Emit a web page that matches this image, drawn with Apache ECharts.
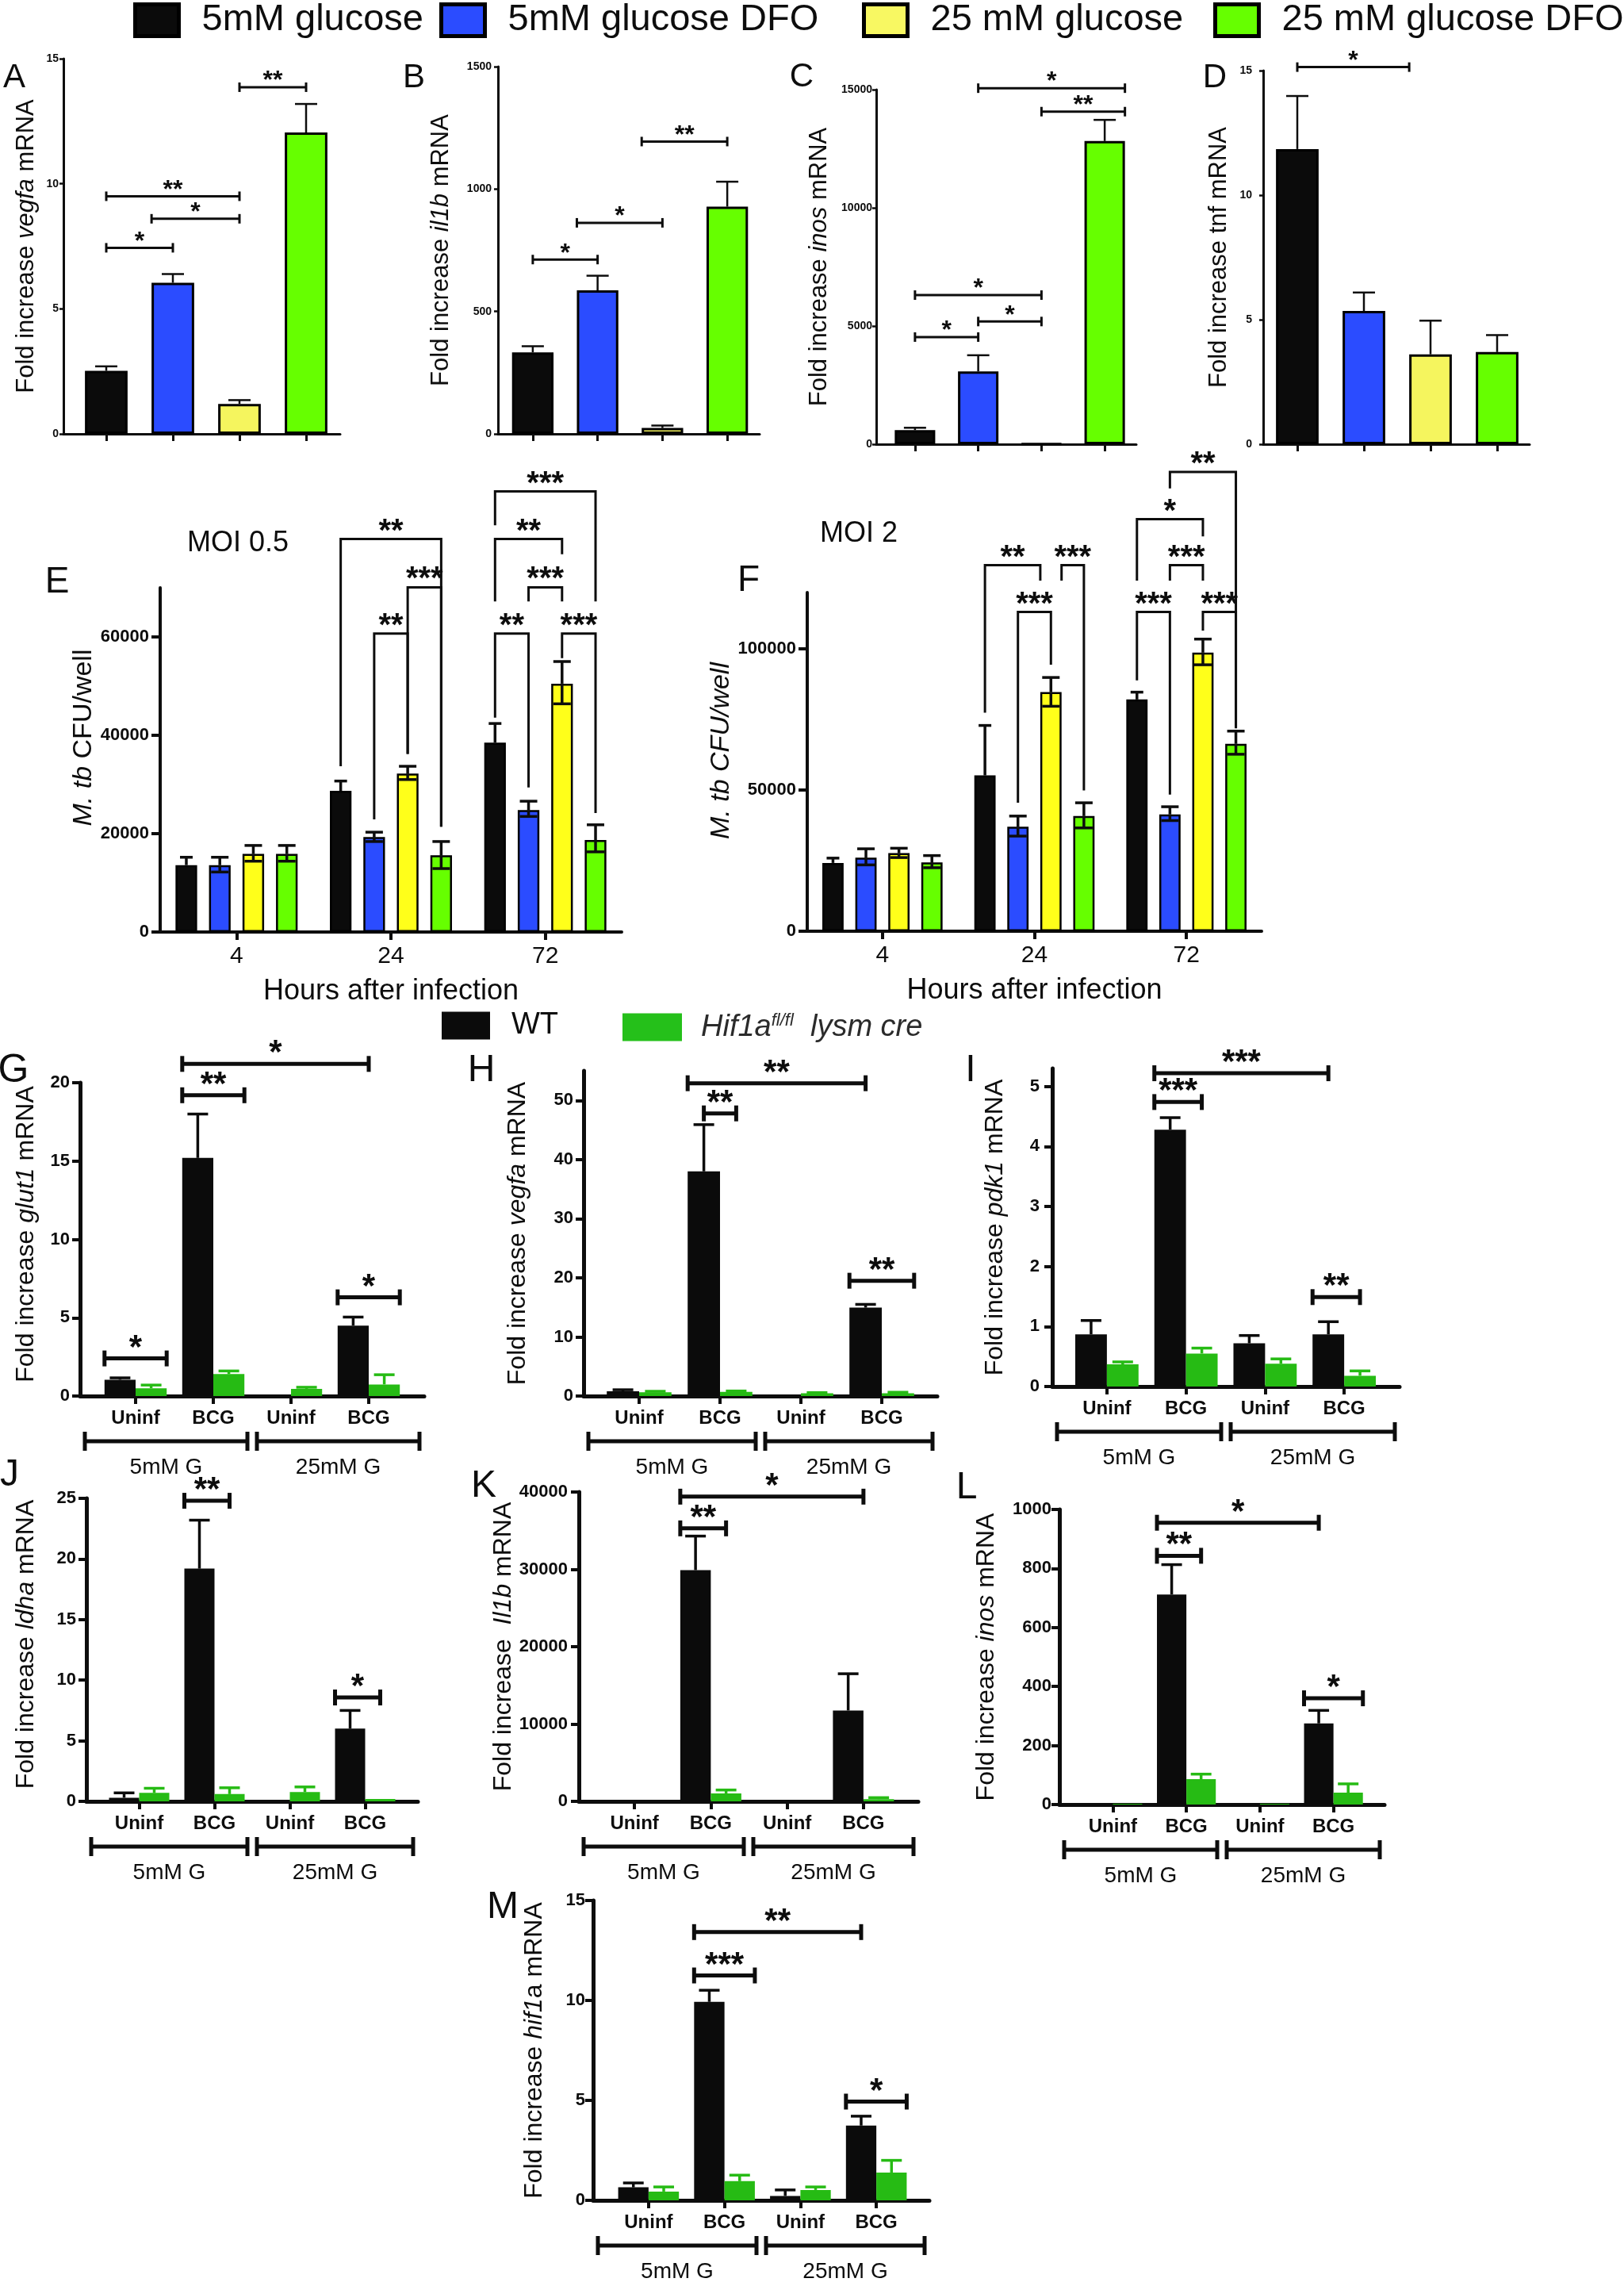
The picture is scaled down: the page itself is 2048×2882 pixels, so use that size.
<!DOCTYPE html>
<html>
<head>
<meta charset="utf-8">
<script src="https://cdn.jsdelivr.net/npm/echarts@6.0.0/dist/echarts.min.js"></script>
<style>
  html, body { margin: 0; padding: 0; background: #fff; }
  #chart { width: 2048px; height: 2882px; }
</style>
</head>
<body>
<div id="chart"></div>
<script>
// Figure: DFO / glucose fold increase (A-D), M. tb CFU (E-F), WT vs Hif1a KO (G-M)

const FONT = '"Liberation Sans", Arial, Helvetica, sans-serif';
const INK = '#0d0d0d';

// ---------- A-D : glucose +/- DFO ----------
const dfoGroups = ['5mM glucose', '5mM glucose DFO', '25 mM glucose', '25 mM glucose DFO'];
const vegfaDfo = [2.52, 6.04, 1.2, 12.05];
const vegfaDfoTop = [2.7, 6.39, 1.35, 13.19];
const il1bDfo = [333, 586, 24, 928];
const il1bDfoTop = [358, 646, 34, 1030];
const inosDfo = [596, 3080, 20, 12826];
const inosDfoTop = [695, 3763, 20, 13720];
const tnfDfo = [11.85, 5.35, 3.61, 3.7];
const tnfDfoTop = [13.98, 6.09, 4.96, 4.38];

// significance: [bar a, bar b, height, stars]; a bar is [category, series, side]
const vegfaDfoSig = [
  [[0, 0, 'c'], [2, 0, 'c'], 9.5, '**'],
  [[1, 0, 'l'], [2, 0, 'c'], 8.6, '*'],
  [[0, 0, 'c'], [1, 0, 'c'], 7.44, '*'],
  [[2, 0, 'c'], [3, 0, 'c'], 13.86, '**']
];
const il1bDfoSig = [
  [[0, 0, 'c'], [1, 0, 'c'], 712, '*'],
  [[1, 0, 'l'], [2, 0, 'c'], 862, '*'],
  [[2, 0, 'l'], [3, 0, 'c'], 1194, '**']
];
const inosDfoSig = [
  [[0, 0, 'c'], [2, 0, 'c'], 6307, '*'],
  [[1, 0, 'c'], [2, 0, 'c'], 5190, '*'],
  [[0, 0, 'c'], [1, 0, 'c'], 4532, '*'],
  [[2, 0, 'c'], [3, 0, 'r'], 14069, '**'],
  [[1, 0, 'c'], [3, 0, 'r'], 15062, '*']
];
const tnfDfoSig = [
  [[0, 0, 'c'], [2, 0, 'l'], 15.14, '*']
];

// ---------- E-F : M. tb CFU/well ----------
const cfuHours = ['4', '24', '72'];
const moi05Glu = [13600, 28700, 38500];
const moi05GluTop = [15200, 30700, 42400];
const moi05GluDfo = [13600, 19300, 24800];
const moi05GluDfoLow = [12200, 18400, 23500];
const moi05GluDfoTop = [15200, 20300, 26600];
const moi05Glu25 = [15900, 32200, 50500];
const moi05Glu25Low = [14400, 31000, 46400];
const moi05Glu25Top = [17600, 33700, 55000];
const moi05Glu25Dfo = [15900, 15600, 18700];
const moi05Glu25DfoLow = [14400, 12900, 16300];
const moi05Glu25DfoTop = [17600, 18400, 21800];

const moi2Glu = [24200, 55200, 82100];
const moi2GluTop = [25900, 72900, 84700];
const moi2GluDfo = [26100, 37000, 41400];
const moi2GluDfoLow = [23500, 33700, 39200];
const moi2GluDfoTop = [29200, 40800, 44100];
const moi2Glu25 = [27700, 84700, 98700];
const moi2Glu25Low = [26100, 79700, 94400];
const moi2Glu25Top = [29400, 89900, 103500];
const moi2Glu25Dfo = [24400, 40800, 66400];
const moi2Glu25DfoLow = [22500, 36600, 62700];
const moi2Glu25DfoTop = [26800, 45500, 70900];

// brackets: [bar a, bar b, top, leg end a, leg end b, stars]
const moi05Sig = [
  [[1, 0, 'c'], [1, 3, 'c'], 79900, 33700, 21400, '**'],
  [[1, 2, 'c'], [1, 3, 'c'], 70100, 36200, 21400, '***'],
  [[1, 1, 'c'], [1, 2, 'c'], 60700, 22900, 36200, '**'],
  [[2, 0, 'c'], [2, 3, 'c'], 89600, 82700, 67200, '***'],
  [[2, 0, 'c'], [2, 2, 'c'], 79900, 67200, 76800, '**'],
  [[2, 1, 'c'], [2, 2, 'c'], 70100, 67200, 67200, '***'],
  [[2, 0, 'c'], [2, 1, 'c'], 60700, 43600, 29400, '**'],
  [[2, 2, 'c'], [2, 3, 'c'], 60700, 55700, 24200, '***']
];
const moi2Sig = [
  [[1, 0, 'c'], [1, 2, 'l'], 129700, 77400, 124200, '**'],
  [[1, 2, 'r'], [1, 3, 'c'], 129700, 124200, 49900, '***'],
  [[1, 1, 'c'], [1, 2, 'c'], 113100, 45500, 94400, '***'],
  [[2, 1, 'c'], [2, 3, 'c'], 162700, 156900, 72000, '**'],
  [[2, 0, 'c'], [2, 2, 'c'], 146000, 124200, 139900, '*'],
  [[2, 1, 'c'], [2, 2, 'c'], 129700, 124200, 124200, '***'],
  [[2, 0, 'c'], [2, 1, 'c'], 113100, 88900, 48400, '***'],
  [[2, 2, 'c'], [2, 3, 'c'], 113100, 106500, 71900, '***']
];

// ---------- G-M : WT vs Hif1a fl/fl lysm cre ----------
const koNames = ['WT', 'Hif1a'];
const koGroups = ['Uninf', 'BCG', 'Uninf', 'BCG'];
const glucoseGroups = ['5mM G', '25mM G'];

const glut1Wt = [1.04, 15.2, 0, 4.5];
const glut1WtTop = [1.16, 18.0, 0, 5.04];
const glut1Ko = [0.5, 1.4, 0.46, 0.74];
const glut1KoTop = [0.7, 1.6, 0.56, 1.36];
const glut1Sig = [
  [[0, 0, 'l'], [0, 1, 'r'], 2.4, '*'],
  [[1, 0, 'l'], [1, 1, 'r'], 19.2, '**'],
  [[1, 0, 'l'], [3, 0, 'r'], 21.2, '*'],
  [[3, 0, 'l'], [3, 1, 'r'], 6.3, '*']
];

const vegfaWt = [0.8, 38.0, 0.16, 14.95];
const vegfaWtTop = [1.06, 45.9, 0.16, 15.5];
const vegfaKo = [0.64, 0.69, 0.48, 0.48];
const vegfaKoTop = [0.8, 0.85, 0.58, 0.64];
const vegfaSig = [
  [[1, 0, 'c'], [1, 1, 'c'], 47.8, '**'],
  [[1, 0, 'l'], [3, 0, 'c'], 52.9, '**'],
  [[3, 0, 'l'], [3, 1, 'r'], 19.5, '**']
];

const pdk1Wt = [0.87, 4.28, 0.72, 0.87];
const pdk1WtTop = [1.1, 4.48, 0.85, 1.08];
const pdk1Ko = [0.37, 0.55, 0.38, 0.18];
const pdk1KoTop = [0.41, 0.64, 0.46, 0.26];
const pdk1Sig = [
  [[1, 0, 'l'], [1, 1, 'c'], 4.74, '***'],
  [[1, 0, 'l'], [3, 0, 'c'], 5.22, '***'],
  [[3, 0, 'l'], [3, 1, 'c'], 1.49, '**']
];

const ldhaWt = [0.3, 19.2, 0, 6.0];
const ldhaWtTop = [0.7, 23.2, 0, 7.5];
const ldhaKo = [0.7, 0.6, 0.77, 0.19];
const ldhaKoTop = [1.08, 1.12, 1.19, 0.19];
const ldhaSig = [
  [[1, 0, 'l'], [1, 1, 'c'], 24.8, '**'],
  [[3, 0, 'l'], [3, 1, 'c'], 8.57, '*']
];

const il1bWt = [0, 29900, 0, 11750];
const il1bWtTop = [0, 34300, 0, 16500];
const il1bKo = [0, 1030, 0, 290];
const il1bKoTop = [0, 1470, 0, 480];
const il1bSig = [
  [[1, 0, 'l'], [1, 1, 'c'], 35300, '**'],
  [[1, 0, 'l'], [3, 0, 'r'], 39400, '*']
];

const inosWt = [0, 712, 0, 275];
const inosWtTop = [0, 813, 0, 319];
const inosKo = [3, 86, 3, 40];
const inosKoTop = [3, 103, 3, 70];
const inosSig = [
  [[1, 0, 'l'], [1, 1, 'c'], 843, '**'],
  [[1, 0, 'l'], [3, 0, 'c'], 955, '*'],
  [[3, 0, 'l'], [3, 1, 'r'], 360, '*']
];

const hif1aWt = [0.65, 9.93, 0.22, 3.74];
const hif1aWtTop = [0.87, 10.51, 0.52, 4.21];
const hif1aKo = [0.44, 0.96, 0.52, 1.39];
const hif1aKoTop = [0.67, 1.26, 0.67, 2.0];
const hif1aSig = [
  [[1, 0, 'l'], [1, 1, 'r'], 11.25, '***'],
  [[1, 0, 'l'], [3, 0, 'c'], 13.42, '**'],
  [[3, 0, 'l'], [3, 1, 'r'], 4.94, '*']
];

// ---------- styles ----------
const dfoColors = ['#0b0b0b', '#2b4cff', '#f5f55e', '#66ff00'];
const cfuColors = ['#0b0b0b', '#2b4cff', '#ffff1a', '#66ff00'];
const koColors = ['#0b0b0b', '#26bb14'];

const dfoLayout = { n: 1, bw: 0.64, gap: 0 };
const cfuLayout = { n: 4, bw: 0.14, gap: 0.55 };
const koLayout = { n: 2, bw: 0.4, gap: 0 };

const dfoStyle = { axisW: 3, yTickLen: 5, yTickW: 2.5, yLabelFont: 14, nameFont: 31, xTickLen: 9, xTickW: 3,
  errW: 2.5, caps: [14], sigW: 3, sigTick: 6, starFont: 32, starDy: 6 };
const cfuStyle = { axisW: 4, yTickLen: 11, yTickW: 4, yLabelFont: 22, nameFont: 34, xTickLen: 10, xTickW: 4,
  errW: 3.5, caps: [8, 11, 11, 11], sigW: 3, starFont: 40, starDy: 9 };
const koStyle = { axisW: 5, yTickLen: 10, yTickW: 4, yLabelFont: 22, nameFont: 32, xTickLen: 10, xTickW: 4,
  errW: 3.5, caps: [13, 13], sigW: 5, sigTick: 10, starFont: 42, starDy: 10, groupDy: 57, groupTick: 12 };

const grids = [];
const xAxes = [];
const yAxes = [];
const series = [];

// x of a bar (center or edge) inside its category band
function barX(api, cat, ser, lay, side) {
  const c = api.coord([cat, 0])[0];
  const band = api.size([1, 0])[0];
  const bw = band * lay.bw;
  const total = lay.n * bw + (lay.n - 1) * lay.gap * bw;
  let x = c - total / 2 + ser * bw * (1 + lay.gap) + bw / 2;
  if (side === 'l') x -= bw / 2;
  if (side === 'r') x += bw / 2;
  return x;
}

// outer grid carries the visible axis lines/labels, inner grid holds the bars
function addFrame(box, max, ticks, yName, st, opt) {
  const x0 = box[0], x1 = box[1], b0 = box[2], b1 = box[3], top = box[4], zero = box[5];
  const outer = grids.length;
  const inner = outer + 1;
  grids.push({ left: x0, top: top, width: x1 - x0, height: zero - top, containLabel: false, outerBoundsMode: 'none' });
  grids.push({ left: b0, top: top, width: b1 - b0, height: zero - top, containLabel: false, outerBoundsMode: 'none' });
  const axisLine = { show: true, onZero: false, lineStyle: { color: INK, width: st.axisW } };

  xAxes.push({
    gridIndex: outer, type: 'category', data: opt.groups || [''],
    axisLine: axisLine, axisTick: { show: false },
    axisLabel: opt.groups
      ? { show: true, interval: 0, margin: 76, fontSize: 28, fontFamily: FONT, color: INK }
      : { show: false },
    splitLine: { show: false }
  });
  yAxes.push({
    gridIndex: outer, type: 'value', min: 0, max: max, interval: ticks[1] - ticks[0],
    axisLine: axisLine,
    axisTick: { show: true, length: st.yTickLen, lineStyle: { color: INK, width: st.yTickW }, customValues: ticks },
    axisLabel: { show: true, customValues: ticks, margin: opt.margin, fontSize: st.yLabelFont,
      fontWeight: 'bold', fontFamily: FONT, color: INK,
      formatter: function (v) { return String(v); } },
    splitLine: { show: false },
    name: yName, nameLocation: 'middle', nameRotate: 90, nameGap: opt.gap,
    nameTextStyle: {
      fontSize: st.nameFont, fontFamily: FONT, color: INK, padding: [0, 0, 0, opt.pad || 0],
      rich: { i: { fontSize: st.nameFont, fontFamily: FONT, fontStyle: 'italic', color: INK } }
    }
  });
  xAxes.push({
    gridIndex: inner, type: 'category', data: opt.cats,
    axisLine: { show: false },
    axisTick: { show: true, alignWithLabel: true, interval: 0, length: st.xTickLen,
      lineStyle: { color: INK, width: st.xTickW } },
    axisLabel: opt.catLabel
      ? Object.assign({ show: true, interval: 0, fontFamily: FONT, color: INK }, opt.catLabel)
      : { show: false },
    name: opt.xName || '', nameLocation: 'middle', nameGap: 57,
    nameTextStyle: { fontSize: 36, fontFamily: FONT, color: INK },
    splitLine: { show: false }
  });
  yAxes.push({ gridIndex: inner, type: 'value', min: 0, max: max, show: false });
  return { outer: outer, inner: inner };
}

// error bars; item = [category, series, mean, low, high]
function addErrors(gi, lay, items, st, colors) {
  series.push({
    type: 'custom', xAxisIndex: gi, yAxisIndex: gi, z: 4, silent: true, clip: false,
    data: items,
    renderItem: function (params, api) {
      const cat = api.value(0), ser = api.value(1);
      const x = barX(api, cat, ser, lay, 'c');
      const yv = api.coord([cat, api.value(2)])[1];
      const ylo = api.coord([cat, api.value(3)])[1];
      const yhi = api.coord([cat, api.value(4)])[1];
      const cap = st.caps[ser] || st.caps[0];
      const ls = { stroke: colors ? colors[ser] : INK, lineWidth: st.errW };
      const kids = [];
      if (yhi < yv - 0.5) {
        kids.push({ type: 'line', shape: { x1: x, y1: yv, x2: x, y2: yhi }, style: ls });
        kids.push({ type: 'line', shape: { x1: x - cap, y1: yhi, x2: x + cap, y2: yhi }, style: ls });
      }
      if (ylo > yv + 0.5) {
        kids.push({ type: 'line', shape: { x1: x, y1: yv, x2: x, y2: ylo }, style: ls });
        kids.push({ type: 'line', shape: { x1: x - cap, y1: ylo, x2: x + cap, y2: ylo }, style: ls });
      }
      return { type: 'group', children: kids };
    }
  });
}

function starText(txt, x, y, st) {
  return { type: 'text', style: { text: txt, x: x, y: y - st.starDy, align: 'center', verticalAlign: 'middle',
    fontSize: st.starFont, fontWeight: 'bold', fontFamily: FONT, fill: INK } };
}

// flat significance bars with end ticks
function addSig(gi, lay, defs, st) {
  series.push({
    type: 'custom', xAxisIndex: gi, yAxisIndex: gi, z: 6, silent: true, clip: false,
    data: defs.map(function (d) { return [d[0][0], d[2]]; }),
    renderItem: function (params, api) {
      const d = defs[params.dataIndex];
      const xa = barX(api, d[0][0], d[0][1], lay, d[0][2]);
      const xb = barX(api, d[1][0], d[1][1], lay, d[1][2]);
      const y = api.coord([d[0][0], d[2]])[1];
      const t = st.sigTick;
      const ls = { stroke: INK, lineWidth: st.sigW };
      return { type: 'group', children: [
        { type: 'line', shape: { x1: xa, y1: y, x2: xb, y2: y }, style: ls },
        { type: 'line', shape: { x1: xa, y1: y - t, x2: xa, y2: y + t }, style: ls },
        { type: 'line', shape: { x1: xb, y1: y - t, x2: xb, y2: y + t }, style: ls },
        starText(d[3], (xa + xb) / 2, y - st.sigW / 2, st)
      ] };
    }
  });
}

// comparison brackets with legs (E-F)
function addLegSig(gi, lay, defs, st) {
  series.push({
    type: 'custom', xAxisIndex: gi, yAxisIndex: gi, z: 6, silent: true, clip: false,
    data: defs.map(function (d) { return [d[0][0], d[2]]; }),
    renderItem: function (params, api) {
      const d = defs[params.dataIndex];
      const xa = barX(api, d[0][0], d[0][1], lay, d[0][2]);
      const xb = barX(api, d[1][0], d[1][1], lay, d[1][2]);
      const yt = api.coord([d[0][0], d[2]])[1];
      const ya = api.coord([d[0][0], d[3]])[1];
      const yb = api.coord([d[1][0], d[4]])[1];
      return { type: 'group', children: [
        { type: 'polyline', shape: { points: [[xa, ya], [xa, yt], [xb, yt], [xb, yb]] },
          style: { stroke: INK, lineWidth: st.sigW, fill: 'none' } },
        starText(d[5], (xa + xb) / 2, yt, st)
      ] };
    }
  });
}

// ---------- panels A-D ----------
const dfoPanels = [
  { box: [80, 429, 92, 428, 74, 547], max: 15, ticks: [0, 5, 10, 15], name: 'Fold increase {i|vegfa} mRNA',
    gap: 31, margin: 6, mean: vegfaDfo, top: vegfaDfoTop, sig: vegfaDfoSig },
  { box: [628, 958, 631, 958, 84, 547], max: 1500, ticks: [0, 500, 1000, 1500], name: 'Fold increase {i|il1b} mRNA',
    gap: 56, margin: 8, mean: il1bDfo, top: il1bDfoTop, sig: il1bDfoSig },
  { box: [1105, 1433, 1114, 1433, 113, 560], max: 15000, ticks: [0, 5000, 10000, 15000], name: 'Fold increase {i|inos} mRNA',
    gap: 56, margin: 5, mean: inosDfo, top: inosDfoTop, sig: inosDfoSig },
  { box: [1593, 1929, 1594, 1930, 89, 560], max: 15, ticks: [0, 5, 10, 15], name: 'Fold increase tnf mRNA',
    gap: 40, margin: 14, mean: tnfDfo, top: tnfDfoTop, sig: tnfDfoSig }
];
dfoPanels.forEach(function (p) {
  const f = addFrame(p.box, p.max, p.ticks, p.name, dfoStyle, { cats: dfoGroups, gap: p.gap, margin: p.margin });
  series.push({
    type: 'bar', xAxisIndex: f.inner, yAxisIndex: f.inner, barWidth: '64%', silent: true,
    data: p.mean.map(function (v, i) { return { value: v, itemStyle: { color: dfoColors[i] } }; }),
    itemStyle: { borderColor: '#000', borderWidth: 3 }
  });
  addErrors(f.inner, dfoLayout, p.mean.map(function (v, i) { return [i, 0, v, v, p.top[i]]; }), dfoStyle, null);
  addSig(f.inner, dfoLayout, p.sig, dfoStyle);
});

// ---------- panels E-F ----------
const cfuPanels = [
  { box: [202, 784, 201, 785, 741, 1175], max: 70000, ticks: [0, 20000, 40000, 60000],
    name: '{i|M. tb} CFU/well', gap: 79, margin: 14, pad: 56,
    means: [moi05Glu, moi05GluDfo, moi05Glu25, moi05Glu25Dfo],
    lows: [null, moi05GluDfoLow, moi05Glu25Low, moi05Glu25DfoLow],
    tops: [moi05GluTop, moi05GluDfoTop, moi05Glu25Top, moi05Glu25DfoTop], sig: moi05Sig },
  { box: [1018, 1591, 1017, 1592, 747, 1174], max: 120000, ticks: [0, 50000, 100000],
    name: '{i|M. tb CFU/well}', gap: 87, margin: 14, pad: 28,
    means: [moi2Glu, moi2GluDfo, moi2Glu25, moi2Glu25Dfo],
    lows: [null, moi2GluDfoLow, moi2Glu25Low, moi2Glu25DfoLow],
    tops: [moi2GluTop, moi2GluDfoTop, moi2Glu25Top, moi2Glu25DfoTop], sig: moi2Sig }
];
cfuPanels.forEach(function (p) {
  const f = addFrame(p.box, p.max, p.ticks, p.name, cfuStyle, {
    cats: cfuHours, gap: p.gap, margin: p.margin, pad: p.pad,
    catLabel: { fontSize: 30, margin: 16 }, xName: 'Hours after infection'
  });
  const items = [];
  p.means.forEach(function (m, s) {
    series.push({
      type: 'bar', name: dfoGroups[s], xAxisIndex: f.inner, yAxisIndex: f.inner,
      barWidth: '14%', barGap: '55%', silent: true, data: m,
      itemStyle: { color: cfuColors[s], borderColor: '#000', borderWidth: 2.5 }
    });
    m.forEach(function (v, c) {
      items.push([c, s, v, p.lows[s] ? p.lows[s][c] : v, p.tops[s][c]]);
    });
  });
  addErrors(f.inner, cfuLayout, items, cfuStyle, null);
  addLegSig(f.inner, cfuLayout, p.sig, cfuStyle);
});

// ---------- panels G-M ----------
const koPanels = [
  { box: [101, 535, 122, 514, 1365, 1760], max: 20, ticks: [0, 5, 10, 15, 20], name: 'Fold increase {i|glut1} mRNA',
    gap: 52, margin: 13, pad: 13, wt: glut1Wt, wtTop: glut1WtTop, ko: glut1Ko, koTop: glut1KoTop, sig: glut1Sig },
  { box: [736, 1182, 755, 1163, 1350, 1760], max: 55, ticks: [0, 10, 20, 30, 40, 50], name: 'Fold increase {i|vegfa} mRNA',
    gap: 67, margin: 13, wt: vegfaWt, wtTop: vegfaWtTop, ko: vegfaKo, koTop: vegfaKoTop, sig: vegfaSig },
  { box: [1327, 1765, 1346, 1745, 1347, 1748], max: 5.3, ticks: [0, 1, 2, 3, 4, 5], name: 'Fold increase {i|pdk1} mRNA',
    gap: 56, margin: 16, wt: pdk1Wt, wtTop: pdk1WtTop, ko: pdk1Ko, koTop: pdk1KoTop, sig: pdk1Sig },
  { box: [109, 527, 128, 508, 1889, 2271], max: 25, ticks: [0, 5, 10, 15, 20, 25], name: 'Fold increase {i|ldha} mRNA',
    gap: 60, margin: 13, pad: 14, wt: ldhaWt, wtTop: ldhaWtTop, ko: ldhaKo, koTop: ldhaKoTop, sig: ldhaSig },
  { box: [730, 1158, 752, 1137, 1881, 2271], max: 40000, ticks: [0, 10000, 20000, 30000, 40000], name: 'Fold increase  {i|Il1b} mRNA',
    gap: 76, margin: 14, wt: il1bWt, wtTop: il1bWtTop, ko: il1bKo, koTop: il1bKoTop, sig: il1bSig },
  { box: [1336, 1746, 1357, 1728, 1903, 2275], max: 1000, ticks: [0, 200, 400, 600, 800, 1000], name: 'Fold increase {i|inos} mRNA',
    gap: 76, margin: 10, wt: inosWt, wtTop: inosWtTop, ko: inosKo, koTop: inosKoTop, sig: inosSig },
  { box: [748, 1172, 770, 1153, 2396, 2774], max: 15, ticks: [0, 5, 10, 15], name: 'Fold increase {i|hif1}a mRNA',
    gap: 58, margin: 10, wt: hif1aWt, wtTop: hif1aWtTop, ko: hif1aKo, koTop: hif1aKoTop, sig: hif1aSig }
];
koPanels.forEach(function (p) {
  const f = addFrame(p.box, p.max, p.ticks, p.name, koStyle, {
    cats: koGroups, groups: glucoseGroups, gap: p.gap, margin: p.margin, pad: p.pad,
    catLabel: { fontSize: 24, fontWeight: 'bold', margin: 16 }
  });
  const means = [p.wt, p.ko];
  const tops = [p.wtTop, p.koTop];
  const items = [];
  means.forEach(function (m, s) {
    series.push({
      type: 'bar', name: koNames[s], xAxisIndex: f.inner, yAxisIndex: f.inner,
      barWidth: '40%', barGap: '0%', silent: true, data: m, itemStyle: { color: koColors[s] }
    });
    m.forEach(function (v, c) { items.push([c, s, v, v, tops[s][c]]); });
  });
  addErrors(f.inner, koLayout, items, koStyle, koColors);
  addSig(f.inner, koLayout, p.sig, koStyle);
  // glucose group brackets under the category labels
  series.push({
    type: 'custom', xAxisIndex: f.outer, yAxisIndex: f.outer, z: 3, silent: true, clip: false,
    data: glucoseGroups.map(function (g, i) { return [i, 0]; }),
    renderItem: function (params, api) {
      const c = api.coord([api.value(0), 0]);
      const half = api.size([1, 0])[0] / 2 - 6;
      const y = c[1] + koStyle.groupDy;
      const t = koStyle.groupTick;
      const ls = { stroke: INK, lineWidth: 5 };
      return { type: 'group', children: [
        { type: 'line', shape: { x1: c[0] - half, y1: y, x2: c[0] + half, y2: y }, style: ls },
        { type: 'line', shape: { x1: c[0] - half, y1: y - t, x2: c[0] - half, y2: y + t }, style: ls },
        { type: 'line', shape: { x1: c[0] + half, y1: y - t, x2: c[0] + half, y2: y + t }, style: ls }
      ] };
    }
  });
});

// ---------- legends ----------
const legendColors = ['#0b0b0b', '#2b4cff', '#f8f862', '#66ff00'];
const legendLeft = [168, 554, 1087, 1530];
const legends = dfoGroups.map(function (name, i) {
  return {
    data: [{ name: name, itemStyle: { color: legendColors[i], borderColor: '#000', borderWidth: 5 } }],
    left: legendLeft[i], top: 2, padding: 0, icon: 'rect', itemWidth: 55, itemHeight: 40, selectedMode: false,
    textStyle: { fontSize: 47, fontFamily: FONT, color: INK, padding: [0, 0, 0, 24] }
  };
});
legends.push({
  data: [{ name: 'WT', itemStyle: { color: koColors[0] } }],
  left: 557, top: 1274, padding: 0, icon: 'rect', itemWidth: 61, itemHeight: 35, selectedMode: false,
  textStyle: { fontSize: 38, fontFamily: FONT, color: INK, padding: [0, 0, 0, 22] }
});
legends.push({
  data: [{ name: 'Hif1a', itemStyle: { color: '#25c01a' } }],
  left: 785, top: 1276, padding: 0, icon: 'rect', itemWidth: 75, itemHeight: 35, selectedMode: false,
  formatter: function () { return '{a|Hif1a}{s|fl/fl}{a|  lysm cre}'; },
  textStyle: {
    fontSize: 38, fontFamily: FONT, fontStyle: 'italic', color: '#2b2b2b', padding: [0, 0, 0, 19],
    rich: {
      a: { fontSize: 38, fontFamily: FONT, fontStyle: 'italic', color: '#2b2b2b' },
      s: { fontSize: 22, fontFamily: FONT, fontStyle: 'italic', color: '#2b2b2b', verticalAlign: 'top', padding: [0, 0, 16, 0] }
    }
  }
});

// ---------- panel letters and captions ----------
const captions = [
  ['A', 18, 98, 42], ['B', 522, 98, 42], ['C', 1011, 97, 42], ['D', 1532, 98, 42],
  ['E', 72, 734, 46], ['F', 944, 732, 46],
  ['G', 17, 1350, 50], ['H', 607, 1350, 48], ['I', 1224, 1350, 48],
  ['J', 12, 1860, 48], ['K', 610, 1874, 48], ['L', 1219, 1876, 48], ['M', 634, 2405, 48],
  ['MOI 0.5', 300, 685, 36], ['MOI 2', 1083, 673, 36]
];
const graphics = captions.map(function (c) {
  return { type: 'text', x: c[1], y: c[2], silent: true,
    style: { text: c[0], fontSize: c[3], fontFamily: FONT, fill: INK, align: 'center', verticalAlign: 'middle' } };
});

const chart = echarts.init(document.getElementById('chart'), null, { renderer: 'canvas' });
chart.setOption({
  backgroundColor: '#ffffff',
  animation: false,
  textStyle: { fontFamily: FONT },
  grid: grids,
  xAxis: xAxes,
  yAxis: yAxes,
  legend: legends,
  series: series,
  graphic: { elements: graphics }
});
</script>
</body>
</html>
